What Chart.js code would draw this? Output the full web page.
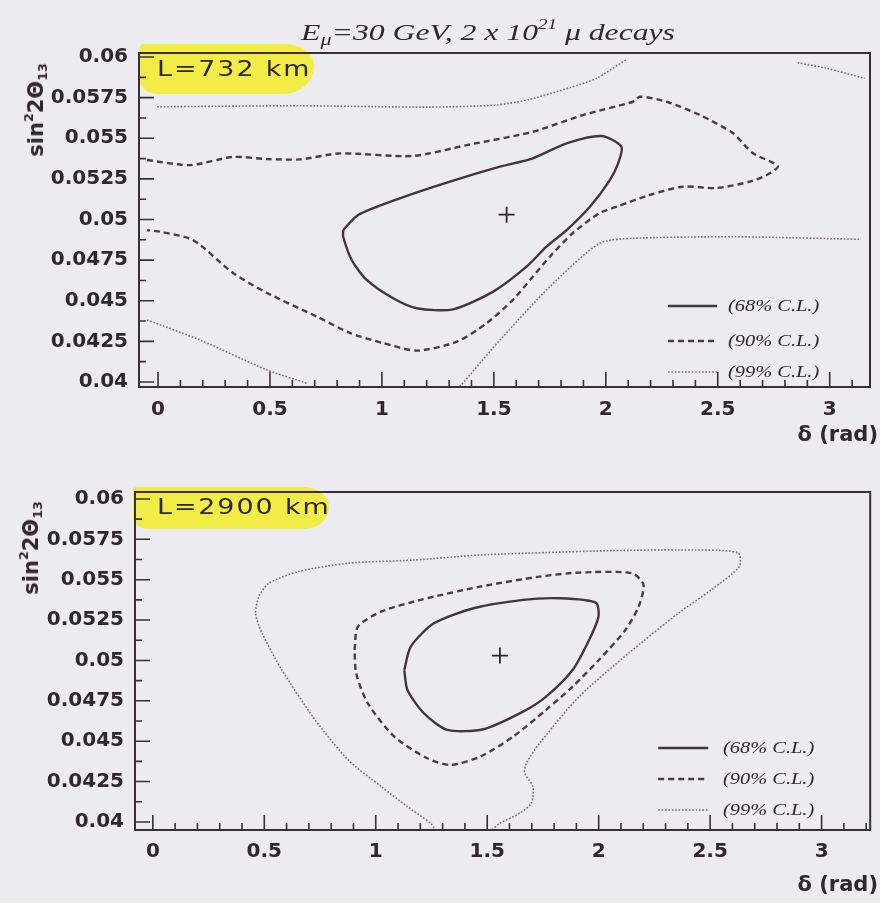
<!DOCTYPE html>
<html>
<head>
<meta charset="utf-8">
<script src="https://cdn.jsdelivr.net/npm/chart.js@4.4.1/dist/chart.umd.min.js"></script>
<style>
html,body{margin:0;padding:0;background:#ecebf0;}
#wrap{position:relative;width:880px;height:903px;overflow:hidden;color:#2f282c;}
canvas{position:absolute;left:0;}
.hl{position:absolute;background:#f1ec46;}
.title{position:absolute;left:488px;top:32px;transform:translate(-50%,-50%) scaleX(1.32);font:italic 24px 'Liberation Serif',serif;white-space:nowrap;}
.title sub{font-size:0.7em;line-height:0;vertical-align:-0.3em;}
.title sup{font-size:0.6em;line-height:0;vertical-align:0.75em;}
.ytitle{position:absolute;transform:translate(-50%,-50%) rotate(-90deg);font:bold 21px 'DejaVu Sans',sans-serif;white-space:nowrap;}
.ytitle sup{font-size:0.6em;line-height:0;vertical-align:0.8em;}
.ytitle sub{font-size:0.6em;line-height:0;vertical-align:-0.35em;}
.xtitle{position:absolute;right:2px;transform:translateY(-50%);font:bold 21px 'DejaVu Sans',sans-serif;white-space:nowrap;}
.lab{position:absolute;transform:translateY(-50%) scaleX(1.28);transform-origin:left center;font:21px 'DejaVu Sans',sans-serif;letter-spacing:1.5px;white-space:nowrap;}
.leg{position:absolute;transform:translateY(-50%) scaleX(1.2);transform-origin:left center;font:italic 17px 'Liberation Serif',serif;white-space:nowrap;}
</style>
</head>
<body>
<div id="wrap">
  <div class="hl" style="left:140px;top:44px;width:174px;height:50px;border-radius:4px 28px 30px 18px / 4px 22px 28px 14px;"></div>
  <div class="hl" style="left:133px;top:487px;width:196px;height:42px;border-radius:4px 26px 24px 16px / 4px 20px 22px 12px;"></div>

  <canvas id="cTop" width="880" height="440" style="top:0"></canvas>
  <canvas id="cBot" width="880" height="463" style="top:440px"></canvas>

  <div class="title">E<sub>μ</sub>=30 GeV, 2 x 10<sup>21</sup> μ decays</div>

  <div class="lab" style="left:157px;top:69px;">L=732 km</div>
  <div class="lab" style="left:157px;top:507px;">L=2900 km</div>

  <div class="ytitle" style="left:36px;top:110px;">sin<sup>2</sup>2Θ<sub>13</sub></div>
  <div class="ytitle" style="left:31px;top:548px;">sin<sup>2</sup>2Θ<sub>13</sub></div>

  <div class="xtitle" style="top:434px;">δ (rad)</div>
  <div class="xtitle" style="top:884px;">δ (rad)</div>

  <div id="legTop"></div>
  <div id="legBot"></div>
</div>
<script>
// ---------- axis ticks ----------
const xTicks = [0, 0.5, 1, 1.5, 2, 2.5, 3];
const xTickLabels = ['0', '0.5', '1', '1.5', '2', '2.5', '3'];
const yTicks = [0.04, 0.0425, 0.045, 0.0475, 0.05, 0.0525, 0.055, 0.0575, 0.06];
const yTickLabels = ['0.04', '0.0425', '0.045', '0.0475', '0.05', '0.0525', '0.055', '0.0575', '0.06'];
const clLabels = ['(68% C.L.)', '(90% C.L.)', '(99% C.L.)'];

// ---------- best fit point (both panels) ----------
const bestX = [1.557];
const bestY = [0.0503];

// ---------- top panel, L = 732 km ----------
const t68x = [0.827, 0.894, 1.080, 1.304, 1.527, 1.674, 1.825, 1.981, 2.070, 2.055, 2.018, 1.929, 1.825, 1.735, 1.646, 1.497, 1.318, 1.155, 1.050, 0.932, 0.865, 0.827, 0.827];
const t68y = [0.04935, 0.05028, 0.05130, 0.05233, 0.05325, 0.05377, 0.05469, 0.05514, 0.05448, 0.05346, 0.05243, 0.05079, 0.04935, 0.04833, 0.04710, 0.04556, 0.04447, 0.04454, 0.04515, 0.04628, 0.04751, 0.04894, 0.04935];

const t90x = [-0.049, 0.143, 0.335, 0.487, 0.634, 0.813, 1.138, 1.379, 1.674, 1.897, 2.121, 2.152, 2.272, 2.420, 2.567, 2.656, 2.768, 2.719, 2.643, 2.496, 2.344, 2.196, 2.049, 1.973, 1.853, 1.750, 1.674, 1.585, 1.469, 1.335, 1.156, 1.004, 0.857, 0.710, 0.487, 0.335, 0.156, 0.009, -0.049];
const t90y = [0.05366, 0.05335, 0.05385, 0.05372, 0.05370, 0.05407, 0.05391, 0.05458, 0.05540, 0.05643, 0.05725, 0.05756, 0.05725, 0.05643, 0.05532, 0.05409, 0.05329, 0.05274, 0.05233, 0.05194, 0.05202, 0.05151, 0.05079, 0.05040, 0.04917, 0.04771, 0.04648, 0.04505, 0.04363, 0.04248, 0.04193, 0.04240, 0.04302, 0.04402, 0.04548, 0.04671, 0.04874, 0.04925, 0.04935];

const t99aX = [-0.004, 0.634, 1.214, 1.512, 1.661, 1.839, 1.958, 2.092];
const t99aY = [0.05694, 0.05700, 0.05692, 0.05705, 0.05740, 0.05812, 0.05869, 0.05986];
const t99bX = [2.857, 2.985, 3.156];
const t99bY = [0.05965, 0.05931, 0.05869];
const t99cX = [1.348, 1.527, 1.750, 1.973, 2.121, 2.509, 2.719, 3.134];
const t99cY = [0.03971, 0.04258, 0.04586, 0.04854, 0.04884, 0.04894, 0.04891, 0.04878];
const t99dX = [-0.049, 0.188, 0.487, 0.665];
const t99dY = [0.04382, 0.04258, 0.04074, 0.03992];

// ---------- bottom panel, L = 2900 km ----------
const b68x = [1.128, 1.157, 1.261, 1.439, 1.661, 1.824, 1.987, 1.999, 1.957, 1.883, 1.764, 1.661, 1.483, 1.320, 1.216, 1.142, 1.128];
const b68y = [0.04941, 0.05086, 0.05230, 0.05323, 0.05375, 0.05385, 0.05358, 0.05271, 0.05127, 0.04941, 0.04776, 0.04683, 0.04574, 0.04570, 0.04673, 0.04817, 0.04941];

const b90x = [0.905, 0.920, 1.024, 1.201, 1.468, 1.735, 1.912, 2.150, 2.201, 2.179, 2.120, 2.001, 1.883, 1.764, 1.616, 1.468, 1.335, 1.231, 1.083, 0.964, 0.912, 0.905];
const b90y = [0.05065, 0.05209, 0.05302, 0.05375, 0.05457, 0.05519, 0.05544, 0.05540, 0.05468, 0.05333, 0.05189, 0.05003, 0.04838, 0.04694, 0.04528, 0.04404, 0.04353, 0.04394, 0.04528, 0.04735, 0.04921, 0.05065];

const b99x = [1.262, 1.246, 1.142, 1.024, 0.876, 0.728, 0.579, 0.490, 0.461, 0.476, 0.520, 0.653, 0.876, 1.172, 1.468, 1.764, 2.061, 2.357, 2.624, 2.631, 2.505, 2.357, 2.135, 1.912, 1.735, 1.676, 1.668, 1.705, 1.698, 1.646, 1.557, 1.520];
const b99y = [0.03963, 0.03992, 0.04095, 0.04219, 0.04384, 0.04632, 0.04941, 0.05168, 0.05292, 0.05395, 0.05478, 0.05550, 0.05602, 0.05622, 0.05653, 0.05668, 0.05680, 0.05684, 0.05668, 0.05581, 0.05437, 0.05292, 0.05045, 0.04776, 0.04487, 0.04363, 0.04302, 0.04219, 0.04116, 0.04054, 0.03992, 0.03950];

// ---------- helpers ----------
function pts(xs, ys) { return xs.map((x, i) => ({ x: x, y: ys[i] })); }

const STY = {
  c68: { borderColor: '#43363a', borderWidth: 2.4, borderDash: [] },
  c90: { borderColor: '#4a3d41', borderWidth: 2.4, borderDash: [6, 4] },
  c99: { borderColor: '#76676b', borderWidth: 1.6, borderDash: [1.6, 1.8] }
};

function curve(xs, ys, st) {
  return Object.assign({ data: pts(xs, ys), showLine: true, pointRadius: 0, pointHoverRadius: 0, tension: 0.25, fill: false, borderCapStyle: 'butt' }, st);
}
function best() {
  return { data: pts(bestX, bestY), showLine: false, pointStyle: 'cross', pointRadius: 8, borderWidth: 1.8, borderColor: '#2f282c', backgroundColor: '#2f282c' };
}

const framePlugin = {
  id: 'frame',
  afterDatasetsDraw(chart, args, opts) {
    const ctx = chart.ctx, a = chart.chartArea, xs = chart.scales.x, ys = chart.scales.y;
    ctx.save();
    ctx.setLineDash([]);
    ctx.strokeStyle = '#3a3034';
    ctx.lineWidth = 2;
    ctx.strokeRect(a.left, a.top, a.right - a.left, a.bottom - a.top);
    ctx.lineWidth = 1.6;
    ctx.beginPath();
    for (let k = 0; k <= 32; k++) {
      const px = xs.getPixelForValue(k / 10);
      if (px < a.left || px > a.right) continue;
      const len = (k % 5 === 0) ? 15 : 7;
      ctx.moveTo(px, a.bottom); ctx.lineTo(px, a.bottom - len);
    }
    for (let k = 0; k <= 16; k++) {
      const py = ys.getPixelForValue(yTicks[0] + k * 0.00125);
      const len = (k % 2 === 0) ? 15 : 7;
      ctx.moveTo(a.left, py); ctx.lineTo(a.left + len, py);
    }
    ctx.stroke();
    // legend samples
    const sets = chart.data.datasets;
    opts.rows.forEach((r, i) => {
      const ds = sets[opts.idx[i]];
      ctx.strokeStyle = ds.borderColor;
      ctx.lineWidth = ds.borderWidth;
      ctx.setLineDash(ds.borderDash || []);
      ctx.beginPath();
      ctx.moveTo(a.right + opts.x0, a.bottom + opts.rows[i]);
      ctx.lineTo(a.right + opts.x1, a.bottom + opts.rows[i]);
      ctx.stroke();
    });
    ctx.restore();
  }
};

function makeChart(id, datasets, cfg) {
  const tickFont = { family: 'DejaVu Sans', size: 20, weight: 'bold' };
  return new Chart(document.getElementById(id), {
    type: 'scatter',
    data: { datasets: datasets },
    plugins: [framePlugin],
    options: {
      responsive: false, animation: false, devicePixelRatio: 1, events: [],
      layout: { padding: { top: cfg.padTop, right: cfg.padRight, left: 0, bottom: 0 } },
      plugins: { legend: { display: false }, tooltip: { enabled: false }, title: { display: false }, frame: cfg.legend },
      scales: {
        x: {
          type: 'linear', min: cfg.xmin, max: cfg.xmax,
          grid: { display: false, drawTicks: false }, border: { display: false },
          afterBuildTicks: s => { s.ticks = xTicks.map(v => ({ value: v })); },
          afterFit: s => { s.height = cfg.xH; },
          ticks: { autoSkip: false, maxRotation: 0, padding: cfg.xPad, color: '#2f282c', font: tickFont, callback: (v, i) => xTickLabels[i] }
        },
        y: {
          type: 'linear', min: cfg.ymin, max: cfg.ymax,
          grid: { display: false, drawTicks: false }, border: { display: false },
          afterBuildTicks: s => { s.ticks = yTicks.map(v => ({ value: v })); },
          afterFit: s => { s.width = cfg.yW; },
          ticks: { autoSkip: false, padding: 11, color: '#2f282c', font: tickFont, callback: (v, i) => yTickLabels[i] }
        }
      }
    }
  });
}

// top panel
makeChart('cTop', [
  curve(t68x, t68y, STY.c68),
  curve(t90x, t90y, STY.c90),
  curve(t99aX, t99aY, STY.c99),
  curve(t99bX, t99bY, STY.c99),
  curve(t99cX, t99cY, STY.c99),
  curve(t99dX, t99dY, STY.c99),
  best()
], { padTop: 53, padRight: 10, yW: 139, xH: 53, xPad: 11, xmin: -0.085, xmax: 3.18, ymin: 0.03969, ymax: 0.06025,
     legend: { x0: -202, x1: -153, rows: [-81, -46, -15], idx: [0, 1, 2] } });

// bottom panel
makeChart('cBot', [
  curve(b68x, b68y, STY.c68),
  curve(b90x, b90y, STY.c90),
  curve(b99x, b99y, STY.c99),
  best()
], { padTop: 52, padRight: 3, yW: 135, xH: 73, xPad: 10, xmin: -0.08, xmax: 3.218, ymin: 0.0395, ymax: 0.06043,
     legend: { x0: -212, x1: -162, rows: [-82, -51, -20], idx: [0, 1, 2] } });

// legend texts
function legendText(containerId, left, tops) {
  const c = document.getElementById(containerId);
  clLabels.forEach((t, i) => {
    const d = document.createElement('div');
    d.className = 'leg';
    d.style.left = left + 'px';
    d.style.top = tops[i] + 'px';
    d.textContent = t;
    c.appendChild(d);
  });
}
legendText('legTop', 728, [306, 341, 372]);
legendText('legBot', 723, [748, 779, 810]);
</script>
</body>
</html>
